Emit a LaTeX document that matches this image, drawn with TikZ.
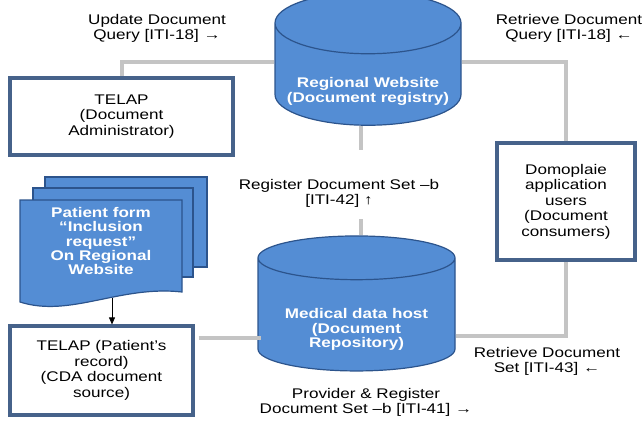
\documentclass[tikz,border=0pt]{standalone}
\usepackage{fontspec}
\setmainfont{Liberation Sans}[FakeStretch=1.22]
\usetikzlibrary{shapes.geometric,arrows.meta}
\definecolor{docblue}{RGB}{84,141,212}
\definecolor{docedge}{RGB}{44,84,140}
\definecolor{boxedge}{RGB}{70,98,138}
\definecolor{linkgray}{RGB}{196,196,196}
\begin{document}
\begin{tikzpicture}[x=1pt,y=-1pt,
  dbcyl/.style={cylinder,shape border rotate=90,draw=docedge,line width=1.2pt,fill=docblue},
  cyltext/.style={align=center,text=white,font=\fontsize{14}{14.5}\selectfont\bfseries},
  sysbox/.style={rectangle,draw=boxedge,line width=3.2pt,fill=white,align=center,font=\fontsize{14}{15.5}\selectfont},
  lbl/.style={align=center,font=\fontsize{14}{15}\selectfont},
  link/.style={draw=linkgray,line width=4pt},
  page/.style={fill=docblue,draw=docedge,line width=1.2pt}]
\useasboundingbox (0,0) rectangle (644,421);
\node [dbcyl,minimum width=186pt,minimum height=133pt,aspect=0.45] (reg) at (368,78.5) {\hspace*{130pt}};
\node [cyltext] (regtxt) at ([yshift=-13pt]reg.center) {Regional Website\\(Document registry)};
\node [dbcyl,minimum width=197pt,minimum height=135pt,aspect=0.34] (med) at (356.5,317.5) {\hspace*{122pt}};
\node [cyltext] (medtxt) at ([yshift=-12pt]med.center) {Medical data host\\(Document\\Repository)};
\node [sysbox,minimum width=223pt,minimum height=77pt] (adm) at (121.5,116.5) {TELAP\\(Document\\Administrator)};
\node [sysbox,minimum width=138pt,minimum height=117pt] (cons) at (566,201.5) {Domoplaie\\application\\users\\(Document\\consumers)};
\node [sysbox,minimum width=183pt,minimum height=89pt] (rec) at (101.5,370.5) {TELAP (Patient's\\record)\\(CDA document\\source)};
\path [page] (45,177) rectangle (207,267);
\path [page] (33,188) rectangle (193,277);
\path [page] (20,200) -- (182,200) -- (182,292) .. controls (120,285) and (70,318) .. (20,302) -- cycle;
\node [cyltext,font=\fontsize{14}{14.3}\selectfont\bfseries] (form) at (101,241) {Patient form\\``Inclusion\\request''\\On Regional\\Website};
\coordinate (formbot) at (112,298);
\draw [-{Triangle[length=7pt,width=6pt]},line width=0.8pt] (formbot) -- (formbot |- rec.north);
\node [lbl] (upd) at (157,28) {Update Document\\Query [ITI-18] →};
\node [lbl] (retq) at (569,28) {Retrieve Document\\Query [ITI-18] ←};
\node [lbl] (regset) at (339,193) {Register Document Set –b\\{[ITI-42] ↑}};
\node [lbl] (retset) at (547,361) {Retrieve Document\\Set [ITI-43] ←};
\node [lbl] (prov) at (366,402) {Provider \& Register\\Document Set –b [ITI-41] →};
\coordinate (regmid) at (361,0);
\draw [link] ([yshift=16.5pt]reg.west) -| (adm.north);
\draw [link] ([yshift=16.5pt]reg.east) -| (cons.north);
\draw [link] (reg.south -| regmid) -- ++(0,24);
\draw [link] (med.north -| regmid) -- ++(0,-16);
\draw [link] ([yshift=-18.5pt]med.east) -| (cons.south);
\draw [link] ([yshift=32.5pt,xshift=4pt]rec.east) -- ([yshift=32.5pt,xshift=4pt]rec.east -| med.west);
\end{tikzpicture}
\end{document}
